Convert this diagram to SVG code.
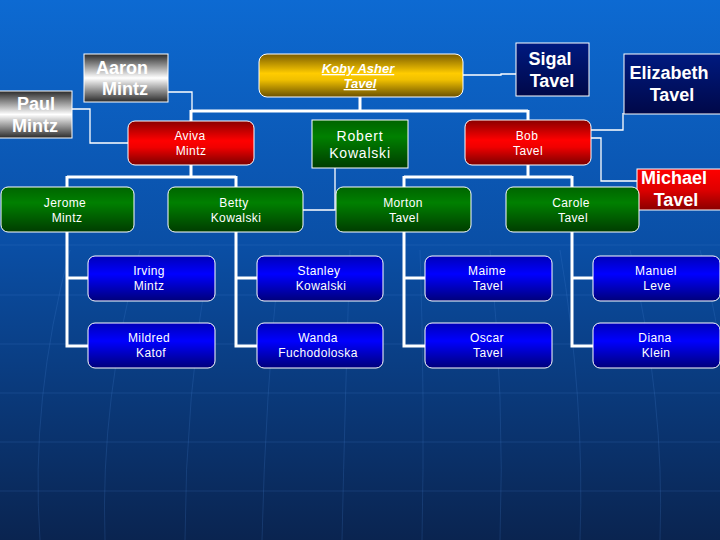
<svg xmlns="http://www.w3.org/2000/svg" width="720" height="540" viewBox="0 0 720 540">
<defs>
<linearGradient id="bg" x1="0" y1="0" x2="0" y2="1">
<stop offset="0" stop-color="#0d6ad2"/>
<stop offset="0.45" stop-color="#0a4fa6"/>
<stop offset="1" stop-color="#0a2450"/>
</linearGradient>
<linearGradient id="gGold" x1="0" y1="0" x2="0" y2="1">
<stop offset="0" stop-color="#7a5c00"/>
<stop offset="0.45" stop-color="#ffcc00"/>
<stop offset="0.6" stop-color="#f0c000"/>
<stop offset="1" stop-color="#6a5000"/>
</linearGradient>
<linearGradient id="gRed" x1="0" y1="0" x2="0" y2="1">
<stop offset="0" stop-color="#8a0000"/>
<stop offset="0.45" stop-color="#ff0000"/>
<stop offset="0.6" stop-color="#f00000"/>
<stop offset="1" stop-color="#7a0000"/>
</linearGradient>
<linearGradient id="gRed2" x1="0" y1="0" x2="0" y2="1">
<stop offset="0" stop-color="#ff0000"/>
<stop offset="0.5" stop-color="#e00000"/>
<stop offset="1" stop-color="#8a0000"/>
</linearGradient>
<linearGradient id="gGreen" x1="0" y1="0" x2="0" y2="1">
<stop offset="0" stop-color="#006400"/>
<stop offset="0.35" stop-color="#008000"/>
<stop offset="1" stop-color="#003c00"/>
</linearGradient>
<linearGradient id="gBlue" x1="0" y1="0" x2="0" y2="1">
<stop offset="0" stop-color="#0000b8"/>
<stop offset="0.4" stop-color="#0000ff"/>
<stop offset="1" stop-color="#00007a"/>
</linearGradient>
<linearGradient id="gNavy" x1="0" y1="0" x2="0" y2="1">
<stop offset="0" stop-color="#001a80"/>
<stop offset="1" stop-color="#000848"/>
</linearGradient>
<linearGradient id="gSilver" x1="0" y1="0" x2="0" y2="1">
<stop offset="0" stop-color="#2a2a2a"/>
<stop offset="0.5" stop-color="#ffffff"/>
<stop offset="1" stop-color="#2a2a2a"/>
</linearGradient>
</defs>
<style>
.n{stroke:#ffffff;stroke-width:1}
.t{font-family:"Liberation Sans",Arial,sans-serif;fill:#ffffff;text-anchor:middle}
.s{font-size:12px;letter-spacing:0.4px}
.b{font-size:18px;font-weight:bold}
.thick{stroke:#ffffff;stroke-width:3;fill:none}
.thin{stroke:#ffffff;stroke-width:1.3;fill:none}
.grid{stroke:#4a86d6;stroke-width:1;fill:none;opacity:0.2}
</style>
<rect x="0" y="0" width="720" height="540" fill="url(#bg)"/>
<g id="background-grid">
<path class="grid" d="M0 245 H720 M0 295 H720 M0 344 H720 M0 393 H720 M0 442 H720 M0 491 H720"/>
<path class="grid" d="M70 250 Q30 400 40 540 M140 250 Q100 400 105 540 M210 250 Q185 400 185 540 M280 250 Q265 400 262 540 M350 250 Q345 400 342 540 M420 250 Q425 400 422 540 M490 250 Q505 400 500 540 M560 250 Q585 400 580 540 M630 250 Q665 400 660 540 M700 250 Q735 380 730 540"/>
</g>
<g id="connectors">
<path class="thick" d="M360 97 V111 M191 111 H528 M191 110 V121 M528 110 V120"/>
<path class="thick" d="M191 165 V177 M67 177 H236 M67 176 V187 M236 176 V187"/>
<path class="thick" d="M528 165 V177 M404 177 H572 M404 176 V187 M572 176 V187"/>
<path class="thick" d="M67 232 V346 H88 M67 278 H88"/>
<path class="thick" d="M236 232 V346 H257 M236 278 H257"/>
<path class="thick" d="M404 232 V346 H425 M404 278 H425"/>
<path class="thick" d="M572 232 V346 H593 M572 278 H593"/>
<path class="thin" d="M463 75 H501 V74 H516"/>
<path class="thin" d="M168 92 H192 V112"/>
<path class="thin" d="M72 109 H90 V143 H128"/>
<path class="thin" d="M335 168 V210 H303"/>
<path class="thin" d="M563 130 H623 V113"/>
<path class="thin" d="M563 138 H601 V181 H637"/>
</g>
<g id="koby">
<rect class="n" x="259" y="54" width="204" height="43" rx="8" fill="url(#gGold)"/>
<text class="t" x="358" y="73" font-size="13" font-style="italic" font-weight="bold" text-decoration="underline">Koby Asher</text>
<text class="t" x="360" y="88" font-size="13" font-style="italic" font-weight="bold" text-decoration="underline">Tavel</text>
</g>
<g id="sigal">
<rect class="n" x="516" y="43" width="73" height="53" fill="url(#gNavy)"/>
<text class="t b" x="550" y="65">Sigal</text>
<text class="t b" x="552" y="87">Tavel</text>
</g>
<g id="elizabeth">
<rect class="n" x="624" y="54" width="100" height="60" fill="url(#gNavy)"/>
<text class="t b" x="669" y="79">Elizabeth</text>
<text class="t b" x="672" y="101">Tavel</text>
</g>
<g id="aaron">
<rect class="n" x="84" y="54" width="84" height="48" fill="url(#gSilver)"/>
<text class="t b" x="122" y="74">Aaron</text>
<text class="t b" x="125" y="95">Mintz</text>
</g>
<g id="paul">
<rect class="n" x="-1" y="91" width="73" height="47" fill="url(#gSilver)"/>
<text class="t b" x="36" y="110">Paul</text>
<text class="t b" x="35" y="132">Mintz</text>
</g>
<g id="aviva">
<rect class="n" x="128" y="121" width="126" height="44" rx="7" fill="url(#gRed)"/>
<text class="t s" x="190" y="140">Aviva</text>
<text class="t s" x="191" y="155">Mintz</text>
</g>
<g id="robert">
<rect class="n" x="312" y="120" width="96" height="48" fill="url(#gGreen)"/>
<text class="t" x="360" y="141" font-size="14" letter-spacing="0.8">Robert</text>
<text class="t" x="360" y="158" font-size="14" letter-spacing="0.8">Kowalski</text>
</g>
<g id="bob">
<rect class="n" x="465" y="120" width="126" height="45" rx="7" fill="url(#gRed)"/>
<text class="t s" x="527" y="140">Bob</text>
<text class="t s" x="528" y="155">Tavel</text>
</g>
<g id="michael">
<rect class="n" x="637" y="169" width="86" height="41" fill="url(#gRed2)"/>
<text class="t b" x="674" y="184">Michael</text>
<text class="t b" x="676" y="206">Tavel</text>
</g>
<g id="jerome">
<rect class="n" x="1" y="187" width="133" height="45" rx="7" fill="url(#gGreen)"/>
<text class="t s" x="65" y="207">Jerome</text>
<text class="t s" x="67" y="222">Mintz</text>
</g>
<g id="betty">
<rect class="n" x="168" y="187" width="135" height="45" rx="7" fill="url(#gGreen)"/>
<text class="t s" x="234" y="207">Betty</text>
<text class="t s" x="236" y="222">Kowalski</text>
</g>
<g id="morton">
<rect class="n" x="336" y="187" width="135" height="45" rx="7" fill="url(#gGreen)"/>
<text class="t s" x="403" y="207">Morton</text>
<text class="t s" x="404" y="222">Tavel</text>
</g>
<g id="carole">
<rect class="n" x="506" y="187" width="133" height="45" rx="7" fill="url(#gGreen)"/>
<text class="t s" x="571" y="207">Carole</text>
<text class="t s" x="573" y="222">Tavel</text>
</g>
<g id="irving">
<rect class="n" x="88" y="256" width="127" height="45" rx="7" fill="url(#gBlue)"/>
<text class="t s" x="149" y="275">Irving</text>
<text class="t s" x="149" y="290">Mintz</text>
</g>
<g id="mildred">
<rect class="n" x="88" y="323" width="127" height="45" rx="7" fill="url(#gBlue)"/>
<text class="t s" x="149" y="342">Mildred</text>
<text class="t s" x="151" y="357">Katof</text>
</g>
<g id="stanley">
<rect class="n" x="257" y="256" width="126" height="45" rx="7" fill="url(#gBlue)"/>
<text class="t s" x="319" y="275">Stanley</text>
<text class="t s" x="321" y="290">Kowalski</text>
</g>
<g id="wanda">
<rect class="n" x="257" y="323" width="126" height="45" rx="7" fill="url(#gBlue)"/>
<text class="t s" x="318" y="342">Wanda</text>
<text class="t s" x="318" y="357">Fuchodoloska</text>
</g>
<g id="maime">
<rect class="n" x="425" y="256" width="127" height="45" rx="7" fill="url(#gBlue)"/>
<text class="t s" x="487" y="275">Maime</text>
<text class="t s" x="488" y="290">Tavel</text>
</g>
<g id="oscar">
<rect class="n" x="425" y="323" width="127" height="45" rx="7" fill="url(#gBlue)"/>
<text class="t s" x="487" y="342">Oscar</text>
<text class="t s" x="488" y="357">Tavel</text>
</g>
<g id="manuel">
<rect class="n" x="593" y="256" width="127" height="45" rx="7" fill="url(#gBlue)"/>
<text class="t s" x="656" y="275">Manuel</text>
<text class="t s" x="657" y="290">Leve</text>
</g>
<g id="diana">
<rect class="n" x="593" y="323" width="127" height="45" rx="7" fill="url(#gBlue)"/>
<text class="t s" x="655" y="342">Diana</text>
<text class="t s" x="656" y="357">Klein</text>
</g>
</svg>
